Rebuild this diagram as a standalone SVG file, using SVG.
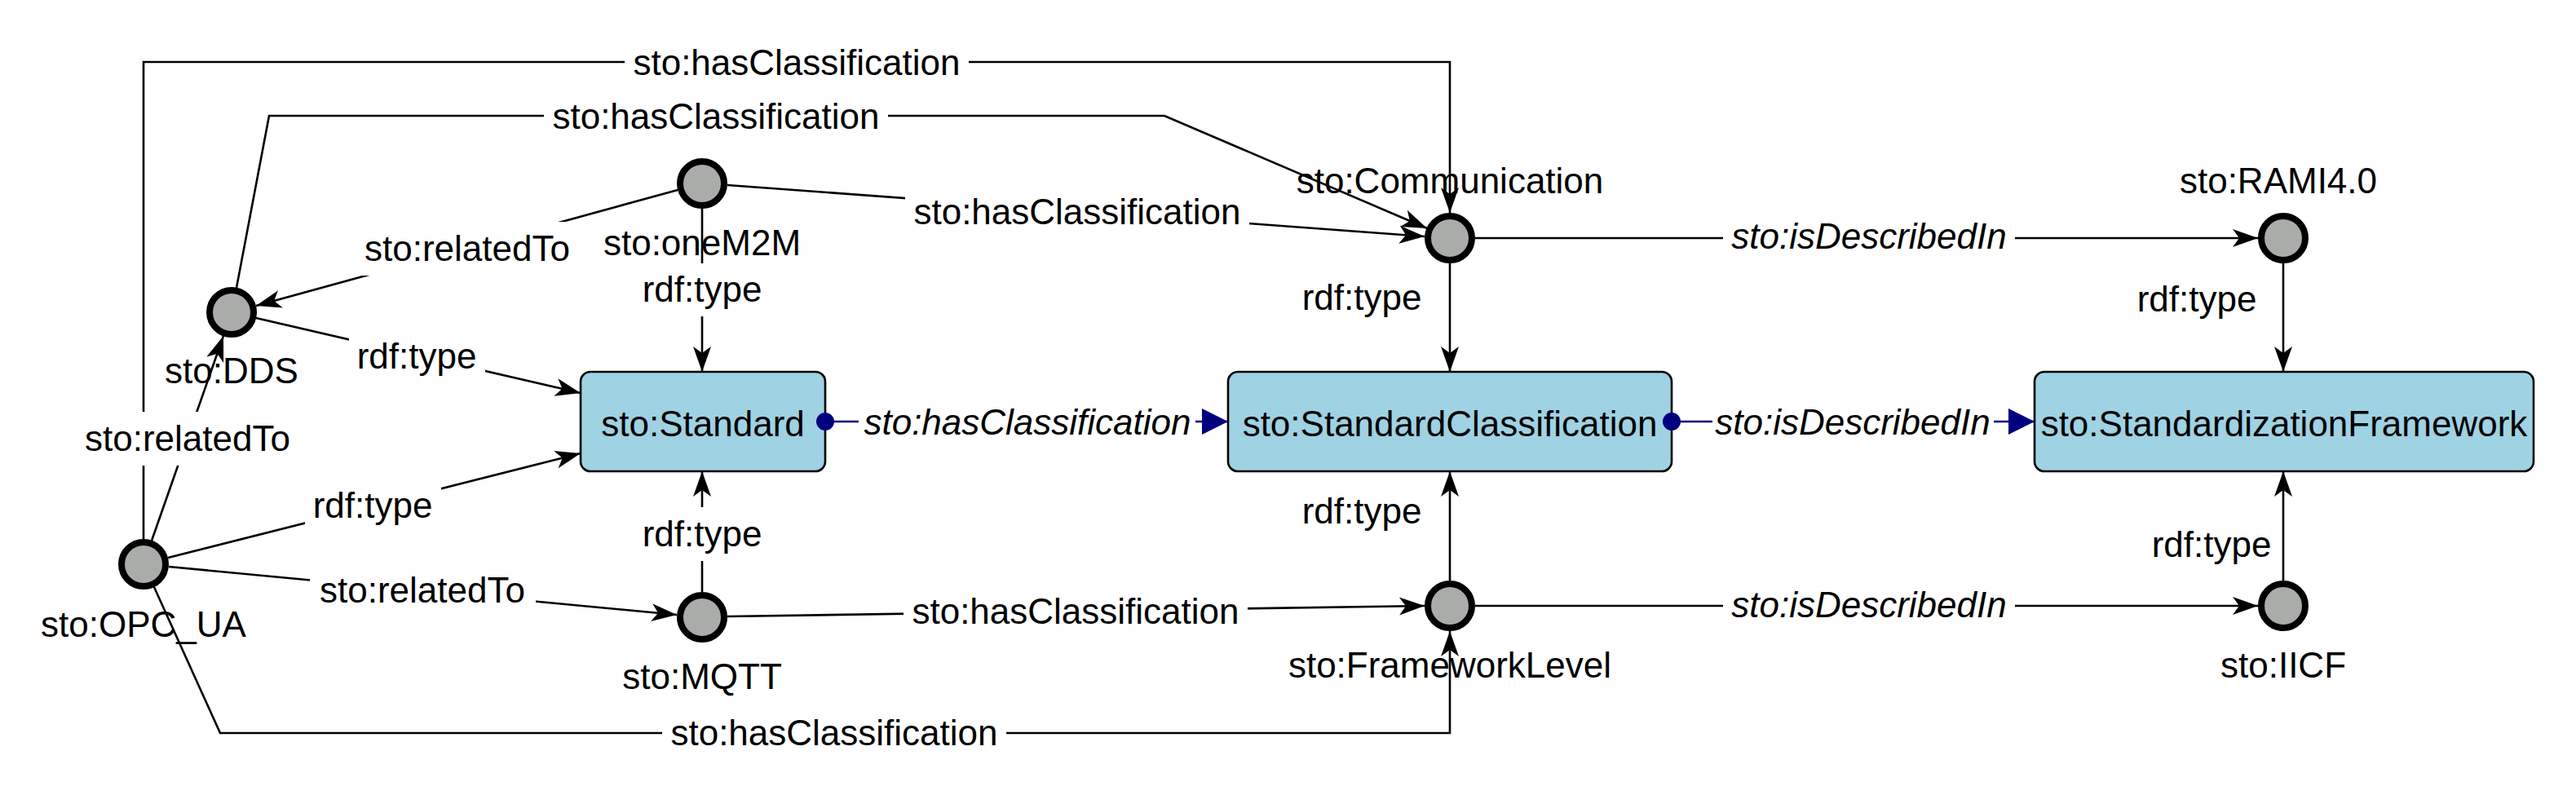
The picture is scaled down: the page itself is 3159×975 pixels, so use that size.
<svg xmlns="http://www.w3.org/2000/svg" width="3159" height="975" viewBox="0 0 3159 975">
<style>
text{font-family:"Liberation Sans",Arial,sans-serif;font-size:44px;fill:#000}
.it{font-style:italic}
.mid{text-anchor:middle}
.e{fill:none;stroke:#000;stroke-width:2.6}
.eb{fill:none;stroke:#00007f;stroke-width:2.6}
.lb{fill:#fff;stroke:none}
.inst{fill:#a9aca8;stroke:#000;stroke-width:8}
.cls{fill:#9fd2e3;stroke:#000;stroke-width:2.6}
</style>
<defs>
<marker id="ah" markerUnits="userSpaceOnUse" viewBox="-32 -12 34 24" refX="0" refY="0" markerWidth="34" markerHeight="24" orient="auto" overflow="visible">
<path d="M0,0 L-31,-11 L-23,0 L-31,11 Z" fill="#000"/>
</marker>
<marker id="bt" markerUnits="userSpaceOnUse" viewBox="-33 -17 34 34" refX="0" refY="0" markerWidth="34" markerHeight="34" orient="auto" overflow="visible">
<path d="M0,0 L-32,-16 L-32,16 Z" fill="#00007f"/>
</marker>
<marker id="bd" markerUnits="userSpaceOnUse" viewBox="-12 -12 24 24" refX="0" refY="0" markerWidth="24" markerHeight="24" orient="auto" overflow="visible">
<circle cx="0" cy="0" r="11" fill="#00007f"/>
</marker>
</defs>
<rect x="0" y="0" width="3159" height="975" fill="#fff"/>
<g id="node-Standard"><rect class="cls" x="712" y="456" width="300" height="122" rx="12"/><text class="mid" x="862" y="535">sto:Standard</text></g>
<g id="node-StandardClassification"><rect class="cls" x="1506" y="456" width="544" height="122" rx="12"/><text class="mid" x="1778" y="535">sto:StandardClassification</text></g>
<g id="node-StandardizationFramework"><rect class="cls" x="2495" y="456" width="612" height="122" rx="12"/><text class="mid" x="2801" y="535">sto:StandardizationFramework</text></g>
<g id="node-OPC_UA"><circle class="inst" cx="176" cy="692" r="27"/><text class="mid" x="176" y="781">sto:OPC_UA</text></g>
<g id="node-DDS"><circle class="inst" cx="284" cy="383" r="27"/><text class="mid" x="284" y="470">sto:DDS</text></g>
<g id="node-oneM2M"><circle class="inst" cx="861" cy="225" r="27"/><text class="mid" x="861" y="313">sto:oneM2M</text></g>
<g id="node-MQTT"><circle class="inst" cx="861" cy="757" r="27"/><text class="mid" x="861" y="845">sto:MQTT</text></g>
<g id="node-Communication"><circle class="inst" cx="1778" cy="292" r="27"/><text class="mid" x="1778" y="237">sto:Communication</text></g>
<g id="node-FrameworkLevel"><circle class="inst" cx="1778" cy="743" r="27"/><text class="mid" x="1778" y="831">sto:FrameworkLevel</text></g>
<g id="node-RAMI4.0"><circle class="inst" cx="2800" cy="292" r="27"/><text class="mid" x="2794" y="237">sto:RAMI4.0</text></g>
<g id="node-IICF"><circle class="inst" cx="2800" cy="743" r="27"/><text class="mid" x="2800" y="831">sto:IICF</text></g>
<g id="connectors">
<path class="e" d="M176,661 V76 H1778 V261" marker-end="url(#ah)"/>
<path class="e" d="M290,353 L330,142 H1428 L1750,280" marker-end="url(#ah)"/>
<path class="e" d="M831,233 L314,375" marker-end="url(#ah)"/>
<path class="e" d="M861,256 V456" marker-end="url(#ah)"/>
<path class="e" d="M892,227 L1747,290" marker-end="url(#ah)"/>
<path class="e" d="M314,390 L712,482" marker-end="url(#ah)"/>
<path class="e" d="M186,663 L274,412" marker-end="url(#ah)"/>
<path class="e" d="M206,684 L712,556" marker-end="url(#ah)"/>
<path class="e" d="M207,695 L830,754" marker-end="url(#ah)"/>
<path class="e" d="M861,726 V578" marker-end="url(#ah)"/>
<path class="e" d="M892,756 L1747,743" marker-end="url(#ah)"/>
<path class="e" d="M189,720 L270,899 H1778 V774" marker-end="url(#ah)"/>
<path class="e" d="M1778,323 V456" marker-end="url(#ah)"/>
<path class="e" d="M1778,712 V578" marker-end="url(#ah)"/>
<path class="e" d="M2800,323 V456" marker-end="url(#ah)"/>
<path class="e" d="M2800,712 V578" marker-end="url(#ah)"/>
<path class="e" d="M1809,292 H2769" marker-end="url(#ah)"/>
<path class="e" d="M1809,743 H2769" marker-end="url(#ah)"/>
<path class="eb" d="M1012,517 H1506" marker-start="url(#bd)" marker-end="url(#bt)"/>
<path class="eb" d="M2050,517 H2495" marker-start="url(#bd)" marker-end="url(#bt)"/>
<g id="edge-labels">
<rect class="lb" x="766" y="44" width="422" height="66"/><text class="mid" x="977" y="92">sto:hasClassification</text>
<rect class="lb" x="667" y="110" width="422" height="66"/><text class="mid" x="878" y="158">sto:hasClassification</text>
<rect class="lb" x="435" y="272" width="277" height="66"/><text class="mid" x="573" y="320">sto:relatedTo</text>
<rect class="lb" x="778" y="323" width="167" height="65"/><text class="mid" x="861" y="370">rdf:type</text>
<rect class="lb" x="1110" y="227" width="422" height="66"/><text class="mid" x="1321" y="275">sto:hasClassification</text>
<rect class="lb" x="428" y="404" width="167" height="66"/><text class="mid" x="511" y="452">rdf:type</text>
<rect class="lb" x="92" y="505" width="277" height="66"/><text class="mid" x="230" y="553">sto:relatedTo</text>
<rect class="lb" x="374" y="587" width="167" height="66"/><text class="mid" x="457" y="635">rdf:type</text>
<rect class="lb" x="380" y="691" width="277" height="66"/><text class="mid" x="518" y="739">sto:relatedTo</text>
<rect class="lb" x="778" y="622" width="167" height="66"/><text class="mid" x="861" y="670">rdf:type</text>
<rect class="lb" x="1108" y="717" width="422" height="66"/><text class="mid" x="1319" y="765">sto:hasClassification</text>
<rect class="lb" x="812" y="866" width="422" height="66"/><text class="mid" x="1023" y="914">sto:hasClassification</text>
<text class="mid" x="1670" y="380">rdf:type</text>
<text class="mid" x="1670" y="642">rdf:type</text>
<text class="mid" x="2694" y="382">rdf:type</text>
<text class="mid" x="2712" y="683">rdf:type</text>
<rect class="lb" x="2113" y="257" width="358" height="66"/><text class="mid it" x="2292" y="305">sto:isDescribedIn</text>
<rect class="lb" x="2113" y="709" width="358" height="66"/><text class="mid it" x="2292" y="757">sto:isDescribedIn</text>
<rect class="lb" x="1053" y="485" width="413" height="66"/><text class="mid it" x="1260" y="533">sto:hasClassification</text>
<rect class="lb" x="2100" y="485" width="345" height="66"/><text class="mid it" x="2272" y="533">sto:isDescribedIn</text>
</g>
</g>
</svg>
